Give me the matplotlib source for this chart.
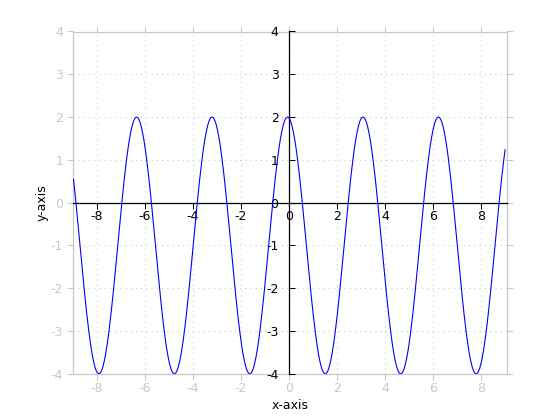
import numpy as np
import matplotlib
matplotlib.use("Agg")
import matplotlib.pyplot as plt

plt.rcParams['font.family'] = ['DejaVu Sans']
plt.rcParams['axes.unicode_minus'] = False

# Curve: y = amp*cos(freq*x + phase) + offset
x_range = [-8.97, 9.0]
amplitude = 3.0
offset = -1.0
frequency = 2.0
phase = 0.12
n_samples = 600

x_limits = [-9.0, 9.07]
y_limits = [-4, 4]
x_ticks = [-8, -6, -4, -2, 0, 2, 4, 6, 8]
y_ticks = [-4, -3, -2, -1, 0, 1, 2, 3, 4]

x = np.linspace(x_range[0], x_range[1], n_samples)
y = amplitude * np.cos(frequency * x + phase) + offset

gray = '#c8c8c8'
fig = plt.figure(figsize=(5.6, 4.2), dpi=100)
pos = [0.13, 0.11, 0.775, 0.815]

ax = fig.add_axes(pos)
ax.set_xlim(*x_limits)
ax.set_ylim(*y_limits)
ax.set_xticks(x_ticks)
ax.set_yticks(y_ticks)
ax.tick_params(which='both', direction='out', length=4, width=0.75,
               color=gray, labelcolor=gray, top=True, right=True,
               labelsize=9)
ax.tick_params(axis='x', pad=2)
ax.tick_params(axis='y', pad=3)
for sp in ax.spines.values():
    sp.set_color(gray)
    sp.set_linewidth(0.9)
ax.grid(True, linestyle=(0, (1, 4)), color=gray, linewidth=0.75)
ax.set_xlabel('x-axis', fontsize=9, labelpad=3)
ax.set_ylabel('y-axis', fontsize=9, labelpad=1.5)

ax2 = fig.add_axes(pos, sharex=ax, sharey=ax)
ax2.patch.set_visible(False)
ax2.spines['left'].set_position(('data', 0))
ax2.spines['bottom'].set_position(('data', 0))
ax2.spines['top'].set_visible(False)
ax2.spines['right'].set_visible(False)
ax2.spines['left'].set_color('black')
ax2.spines['bottom'].set_color('black')
ax2.spines['left'].set_linewidth(0.9)
ax2.spines['bottom'].set_linewidth(0.9)
ax2.tick_params(axis='x', direction='out', length=4, width=0.75,
                colors='black', labelsize=9, pad=1.5)
ax2.tick_params(axis='y', direction='in', length=4, width=0.75,
                colors='black', labelsize=9, pad=7.5)

ax2.plot(x, y, color='blue', linewidth=0.8, zorder=3)

fig.savefig('out.png', dpi=100)
